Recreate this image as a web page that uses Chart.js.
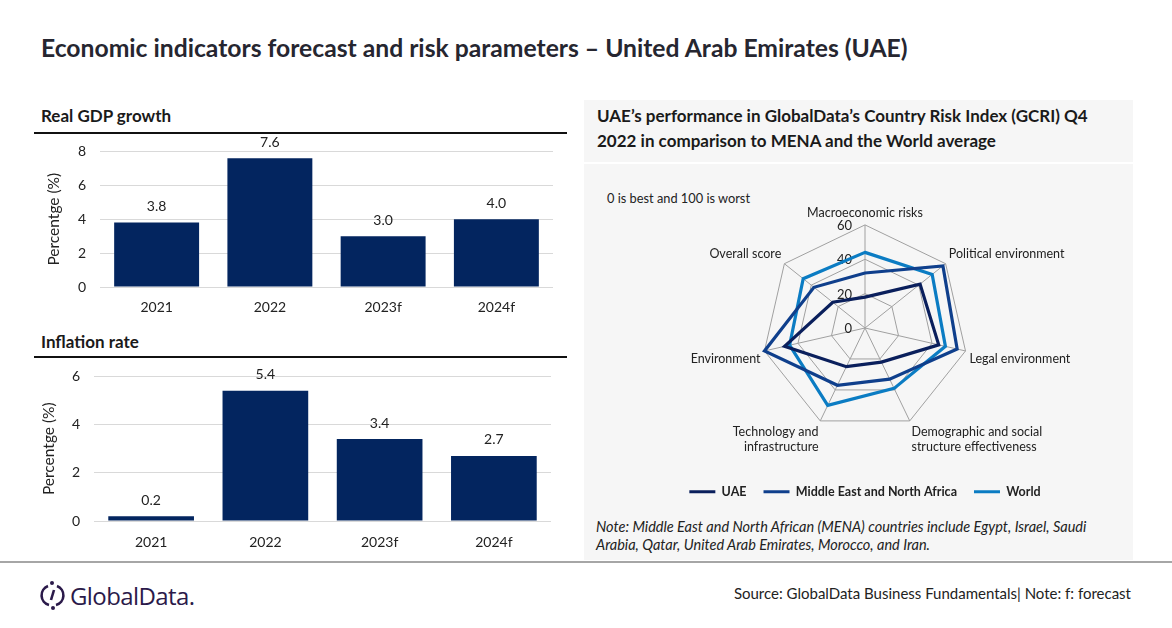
<!DOCTYPE html>
<html lang="en">
<head>
  <meta charset="UTF-8" />
  <title>UAE economic indicators</title>
  <script src="https://cdn.jsdelivr.net/npm/chart.js"></script>
  <style>
    body { margin: 0; background: #fff; font-family: Lato, "Open Sans", sans-serif; color: #222; }
    #page { position: relative; width: 1172px; height: 628px; overflow: hidden; }
    .abs { position: absolute; }
    .h2 { font-weight: 700; font-size: 17px; color: #1a1a1a; }
    .rule { height: 2px; background: #111; }
  </style>
</head>
<body>
<div id="page">
  <div class="abs" style="left:41px;top:33px;font-size:24.7px;font-weight:700;color:#262630;white-space:nowrap;">Economic indicators forecast and risk parameters – United Arab Emirates (UAE)</div>

  <!-- left: bar charts -->
  <div class="abs h2" style="left:41px;top:105px;">Real GDP growth</div>
  <div class="abs rule" style="left:34px;top:132px;width:533px;"></div>
  <div class="abs" style="left:34px;top:129px;width:519px;height:188px;"><canvas id="gdpChart"></canvas></div>

  <div class="abs h2" style="left:41px;top:331px;">Inflation rate</div>
  <div class="abs rule" style="left:34px;top:356px;width:533px;"></div>
  <div class="abs" style="left:34px;top:354px;width:517px;height:197px;"><canvas id="infChart"></canvas></div>

  <!-- right: radar panel -->
  <div class="abs" style="left:584px;top:100px;width:549px;height:460px;background:#f6f6f6;"></div>
  <div class="abs" style="left:584px;top:162px;width:549px;height:2px;background:#fff;"></div>
  <div class="abs h2" style="left:597px;top:103px;line-height:25px;width:510px;">UAE’s performance in GlobalData’s Country Risk Index (GCRI) Q4 2022 in comparison to MENA and the World average</div>
  <div class="abs" style="left:607px;top:190px;font-size:12.8px;color:#222;">0 is best and 100 is worst</div>
  <div class="abs" style="left:600px;top:205px;width:530px;height:303px;"><canvas id="riskChart"></canvas></div>
  <div class="abs" style="left:596px;top:518px;font-size:14.5px;font-style:italic;line-height:18px;width:500px;color:#222;">Note: Middle East and North African (MENA) countries include Egypt, Israel, Saudi Arabia, Qatar, United Arab Emirates, Morocco, and Iran.</div>

  <!-- footer -->
  <div class="abs" style="left:0;top:561px;width:1172px;height:2px;background:#a6a6a6;"></div>
  <svg class="abs" style="left:40px;top:580px;" width="26" height="30" viewBox="0 0 26 30">
    <path d="M8 6 A10 10 0 0 0 9 25" fill="none" stroke="#2b1a4a" stroke-width="2.6"/>
    <path d="M17 6 A10 10 0 0 1 16 25" fill="none" stroke="#2b1a4a" stroke-width="2.6"/>
    <path d="M14 10 L11 20" stroke="#2b1a4a" stroke-width="2.6"/>
    <circle cx="12" cy="3" r="2" fill="#2b1a4a"/>
    <circle cx="13" cy="28" r="2" fill="#2b1a4a"/>
  </svg>
  <div class="abs" style="left:70px;top:579px;font-size:24px;color:#2b1a4a;font-family:'Open Sans',sans-serif;letter-spacing:-0.6px;">GlobalData.</div>
  <div class="abs" style="right:41px;top:584px;font-size:15px;color:#222;">Source: GlobalData Business Fundamentals| Note: f: forecast</div>
</div>

<script>
  // bar charts
  const years = ["2021", "2022", "2023f", "2024f"];
  const gdpGrowth = [3.8, 7.6, 3.0, 4.0];
  const inflation = [0.2, 5.4, 3.4, 2.7];

  // radar chart
  const riskAxes = [
    "Macroeconomic risks",
    "Political environment",
    "Legal environment",
    ["Demographic and social", "structure effectiveness"],
    ["Technology and", "infrastructure"],
    "Environment",
    "Overall score"
  ];
  const uaeRisk = [18, 41, 44, 22, 25, 48, 24];
  const menaRisk = [32, 58, 55, 33, 37, 60, 38];
  const worldRisk = [44, 50, 48, 39, 50, 45, 46];

  const navy = "#03255f";
  const font = "Lato";

  // value labels above the bars
  const valueLabels = {
    id: "valueLabels",
    afterDatasetsDraw(chart) {
      const ctx = chart.ctx;
      const ds = chart.data.datasets[0];
      ctx.save();
      ctx.font = "14px " + font;
      ctx.fillStyle = "#222";
      ctx.textAlign = "center";
      ctx.textBaseline = "middle";
      chart.getDatasetMeta(0).data.forEach((bar, i) => {
        ctx.fillText(ds.data[i].toFixed(1), bar.x, bar.y - 16);
      });
      ctx.restore();
    }
  };

  function barChart(id, values, max, axisW, titlePad, xPad) {
    return new Chart(document.getElementById(id), {
      type: "bar",
      data: {
        labels: years,
        datasets: [{ data: values, backgroundColor: navy, barPercentage: 0.75, categoryPercentage: 1 }]
      },
      options: {
        responsive: true,
        maintainAspectRatio: false,
        animation: false,
        layout: { padding: { top: 10, right: 0, left: 0, bottom: 0 } },
        plugins: { legend: { display: false }, tooltip: { enabled: false } },
        scales: {
          x: {
            grid: { display: false, drawTicks: false },
            border: { display: false },
            ticks: { padding: xPad, color: "#222", font: { size: 14, family: font } },
            afterFit: s => { s.height = 30; }
          },
          y: {
            min: 0, max: max,
            ticks: { stepSize: 2, padding: 14, color: "#222", font: { size: 14, family: font } },
            grid: { color: "#d9d9d9", drawTicks: false },
            border: { display: false },
            title: { display: true, text: "Percentge (%)", color: "#222", font: { size: 15.5, family: font }, padding: { top: titlePad, bottom: 0 } },
            afterFit: s => { s.width = axisW; }
          }
        }
      },
      plugins: [valueLabels]
    });
  }

  barChart("gdpChart", gdpGrowth, 8, 66, 11, 12);
  barChart("infChart", inflation, 6, 60, 6, 13);

  // radial tick labels drawn left of the top spoke
  const radarTicks = {
    id: "radarTicks",
    beforeDatasetsDraw(chart) {
      const r = chart.scales.r;
      const ctx = chart.ctx;
      ctx.save();
      ctx.font = "13px " + font;
      ctx.fillStyle = "#222";
      ctx.textAlign = "right";
      ctx.textBaseline = "middle";
      r.ticks.forEach(t => {
        const d = r.getDistanceFromCenterForValue(t.value);
        ctx.fillText(String(t.value), r.xCenter - 13, r.yCenter - d + 1);
      });
      ctx.restore();
    }
  };

  new Chart(document.getElementById("riskChart"), {
    type: "radar",
    data: {
      labels: riskAxes,
      datasets: [
        { label: "UAE", data: uaeRisk, borderColor: "#0a1f5c" },
        { label: "Middle East and North Africa", data: menaRisk, borderColor: "#0f3f8c" },
        { label: "World", data: worldRisk, borderColor: "#0b7cc3" }
      ].map(d => Object.assign(d, { borderWidth: 3.2, pointRadius: 0, fill: false, backgroundColor: "transparent", tension: 0 }))
    },
    options: {
      responsive: true,
      maintainAspectRatio: false,
      animation: false,
      plugins: {
        tooltip: { enabled: false },
        legend: {
          position: "bottom",
          title: { display: true, text: "", font: { size: 10 }, padding: 0 },
          labels: {
            boxWidth: 26, boxHeight: 3, padding: 17,
            color: "#222", font: { size: 12.5, weight: "bold", family: font },
            generateLabels: chart => Chart.defaults.plugins.legend.labels.generateLabels(chart)
              .map(l => Object.assign(l, { fillStyle: l.strokeStyle, lineWidth: 0 }))
          }
        }
      },
      scales: {
        r: {
          min: 0, max: 60,
          ticks: { stepSize: 20, display: false },
          grid: { color: "#a0a0a0", lineWidth: 1 },
          angleLines: { color: "#a0a0a0", lineWidth: 1 },
          pointLabels: { color: "#222", padding: 4, font: { size: 12.5, family: font } }
        }
      }
    },
    plugins: [radarTicks]
  });
</script>
</body>
</html>
